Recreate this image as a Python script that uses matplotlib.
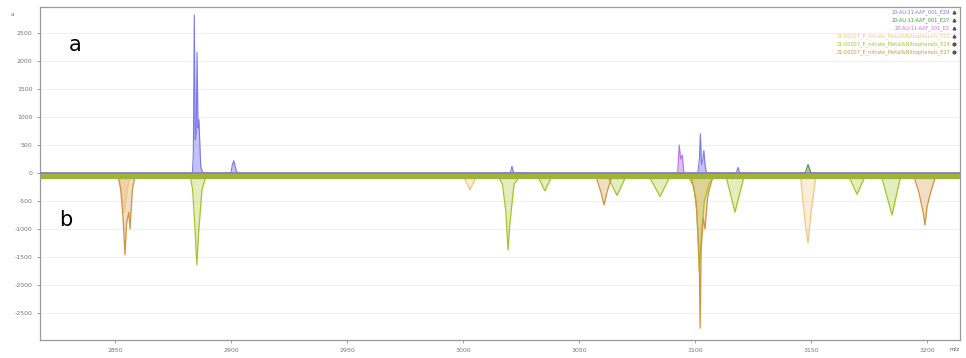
import matplotlib
matplotlib.use("Agg")
import matplotlib.pyplot as plt

# ---- data ----
x_ticks = [2850, 2900, 2950, 3000, 3050, 3100, 3150, 3200]
y_ticks = [-2500, -2000, -1500, -1000, -500, 0, 500, 1000, 1500, 2000, 2500]

legend_labels = [
    "20-AU-11-AAF_001_E29",
    "20-AU-11-AAF_001_E27",
    "20-AU-11-AAF_101_E2",
    "21-00027_E_nitrate_Metal&Nitrophenols_E23",
    "21-00027_E_nitrate_Metal&Nitrophenols_E24",
    "21-00027_E_nitrate_Metal&Nitrophenols_E27",
]

# positive traces (a)
blue_x = [2818, 2883.4, 2883.8, 2884.2, 2884.6, 2885.0, 2885.4, 2885.8, 2886.2, 2886.6, 2887.0,
          2887.6, 2888.0, 2900.0, 2900.6, 2901.2, 2901.8, 2902.6, 3020.4, 3021.1, 3021.8,
          3101.2, 3101.9, 3102.3, 3102.8, 3103.3, 3103.8, 3104.3, 3104.9, 3117.8, 3118.5, 3119.2, 3214]
blue_y = [0, 0, 380, 2820, 600, 700, 2150, 800, 950, 500, 100,
          30, 0, 0, 150, 220, 120, 0, 0, 120, 0,
          0, 250, 700, 150, 230, 400, 150, 0, 0, 100, 0, 0]
green_x = [2818, 3147.5, 3148.7, 3150, 3214]
green_y = [0, 0, 150, 0, 0]
purple_x = [2818, 3092.5, 3093.2, 3093.8, 3094.5, 3095.2, 3214]
purple_y = [0, 0, 500, 250, 320, 0, 0]

# negative traces (b)
lorange_x = [2818, 2851.5, 2852.5, 2854, 2855.5, 2856.5, 3000.5, 3003, 3005.5,
             3145.5, 3147.5, 3148.7, 3150, 3152, 3214]
lorange_y = [-80, -80, -250, -700, -250, -80, -80, -300, -80,
             -80, -900, -1250, -700, -80, -80]
ygreen_x = [2818, 2882.5, 2883.5, 2884.5, 2885.3, 2886, 2887.5, 2889, 3015.5, 3017, 3018.5,
            3019.4, 3020.2, 3022, 3024, 3032.5, 3035.3, 3038, 3062.5, 3066.4, 3070, 3080.5,
            3084.9, 3089, 3097.5, 3099.5, 3100.8, 3101.8, 3102.6, 3104, 3106, 3108, 3113.5,
            3117.2, 3121, 3166.5, 3169.8, 3173, 3180.5, 3184.9, 3188.5, 3214]
ygreen_y = [-80, -80, -300, -1000, -1640, -1100, -300, -80, -80, -200, -700,
            -1375, -900, -200, -80, -80, -320, -80, -80, -400, -80, -80,
            -420, -80, -80, -250, -700, -1750, -1200, -500, -200, -80, -80,
            -700, -80, -80, -380, -80, -80, -750, -80, -80]
orange_x = [2818, 2851.5, 2852.5, 2853.5, 2854.3, 2855, 2856, 2856.5, 2857.5, 2858.5,
            3057.5, 3059.5, 3060.8, 3062, 3064, 3098.5, 3100.5, 3101.8, 3102.2, 3102.6,
            3103.5, 3104.3, 3105.5, 3107.5, 3194.5, 3196.5, 3198.3, 3199.1, 3200, 3201.5, 3203.5, 3214]
orange_y = [-80, -80, -300, -800, -1460, -900, -700, -1000, -300, -80,
            -80, -350, -570, -350, -80, -80, -500, -1500, -2770, -1400,
            -800, -1000, -400, -80, -80, -350, -700, -930, -600, -350, -80, -80]
baseline_x = [2818, 3214]
baseline_y = [-50, -50]

colors = ["#7a78ee", "#3c9a3c", "#b870ee", "#f2c77e", "#a4c628", "#d39440"]

fig = plt.figure(figsize=(9.66, 3.58), dpi=100)
ax = fig.add_axes([40 / 966, 18 / 358, 920 / 966, 333 / 358])
ax.set_xlim(2817.7, 3214.2)
ax.set_ylim(-2982, 2964)

for t in y_ticks:
    ax.axhline(t, color="#f0f0f0", lw=0.8, zorder=0)

neg = [(lorange_x, lorange_y, colors[3]), (ygreen_x, ygreen_y, colors[4]), (orange_x, orange_y, colors[5])]
for xs, ys, c in neg:
    ax.fill_between(xs, ys, -80, color=c, alpha=0.3, lw=0)
    ax.plot(xs, ys, color=c, lw=0.9)

ax.plot(baseline_x, baseline_y, color="#9fb23a", lw=4.5, solid_capstyle="butt", zorder=3)

pos = [(blue_x, blue_y, colors[0]), (green_x, green_y, colors[1]), (purple_x, purple_y, colors[2])]
for xs, ys, c in pos:
    ax.fill_between(xs, ys, 0, color=c, alpha=0.45, lw=0, zorder=4)
    ax.plot(xs, ys, color=c, lw=0.8, zorder=4)

ax.set_xticks(x_ticks)
ax.set_xticklabels([str(v) for v in x_ticks])
ax.set_yticks(y_ticks)
ax.set_yticklabels([str(v) for v in y_ticks])
ax.tick_params(labelsize=4.5, colors="#777777", length=2, width=0.5)
for s in ax.spines.values():
    s.set_color("#999999")
    s.set_linewidth(0.9)

# legend (right aligned, coloured text)
for i, (lab, c) in enumerate(zip(legend_labels, colors)):
    yy = 1 - (12 + 8 * i - 7) / 333
    ax.text(0.989, yy, lab, transform=ax.transAxes, ha="right", va="center",
            fontsize=3.6, color=c)
    ax.plot([0.994], [yy], marker="^" if i < 4 else "o", ms=2, color="#555555",
            transform=ax.transAxes, clip_on=False)

fig.text(75 / 966, 1 - 45 / 358, "a", fontsize=15, ha="center", va="center")
fig.text(66 / 966, 1 - 220 / 358, "b", fontsize=15, ha="center", va="center")
fig.text(12 / 966, 1 - 15 / 358, "a", fontsize=4, color="#777777", ha="center", va="center")
fig.text(955 / 966, 1 - 349 / 358, "m/z", fontsize=4, color="#555555", ha="center", va="center")

fig.savefig("out.png", dpi=100)
